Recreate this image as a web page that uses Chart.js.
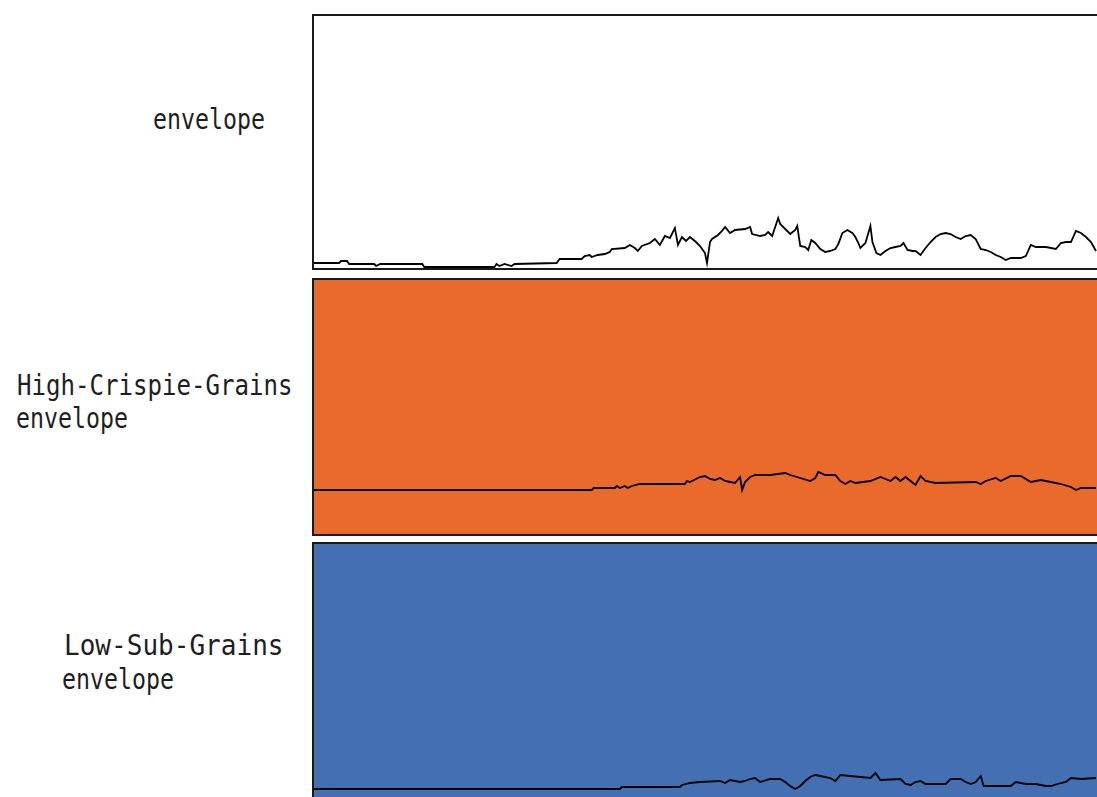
<!DOCTYPE html>
<html>
<head>
<meta charset="utf-8">
<script src="https://cdn.jsdelivr.net/npm/chart.js@4/dist/chart.umd.min.js"></script>
<style>
  html, body { margin: 0; padding: 0; background: #ffffff; width: 1097px; height: 797px; overflow: hidden; }
  .panel { position: absolute; left: 312px; width: 783px; border: 2px solid #1a1a1a; }
  .panel canvas { display: block; }
  .label { position: absolute; font-family: "DejaVu Sans Mono", monospace; font-size: 28px; line-height: 33px;
           color: #1e1e1e; transform-origin: 0 0; white-space: pre; }
</style>
</head>
<body>
<div class="label" style="left:153px; top:103px; transform:scaleX(0.83);">envelope</div>
<div class="label" style="left:17px; top:369px; transform:scaleX(0.86);">High-Crispie-Grains</div>
<div class="label" style="left:16px; top:402px; transform:scaleX(0.83);">envelope</div>
<div class="label" style="left:64px; top:629px; transform:scaleX(0.93);">Low-Sub-Grains</div>
<div class="label" style="left:62px; top:663px; transform:scaleX(0.83);">envelope</div>

<div class="panel" style="top:14px; height:252px; background:#ffffff;"><canvas id="c1" width="783" height="252"></canvas></div>
<div class="panel" style="top:278px; height:254px; background:#E96A2B;"><canvas id="c2" width="783" height="254"></canvas></div>
<div class="panel" style="top:542px; height:256px; background:#4270B2;"><canvas id="c3" width="783" height="256"></canvas></div>

<script>
// Panel labels
const panelLabels = ["envelope", "High-Crispie-Grains envelope", "Low-Sub-Grains envelope"];

// Envelope 1 (plain "envelope")
const env1Time = [0,25,27,33,35,60,62,66,108,110,180,182,185,190,197,200,242,245,267,270,275,277,283,290,295,297,310,315,320,323,327,335,340,345,350,355,360,363,367,371,375,381,385,390,392,395,397,403,407,410,415,420,430,435,437,445,450,453,457,460,463,465,470,475,480,482,485,490,493,496,500,505,510,515,520,523,527,532,537,540,543,545,550,555,557,561,565,570,575,580,585,588,592,597,600,605,610,615,620,625,630,635,640,645,650,655,660,665,670,675,680,685,690,695,705,710,715,720,730,740,745,750,755,760,765,770,775,780];
const env1Amp  = [5,5,7,7,4,4,2,4,4,1,1,4,2,4,2,4,5,9,9,12,13,11,13,14,16,19,20,23,20,17,22,25,29,23,32,30,40,23,31,27,31,26,22,15,5,26,29,33,37,41,35,38,39,41,34,32,33,36,32,41,50,44,39,34,38,42,22,21,18,28,25,19,16,17,19,24,35,38,35,31,25,20,25,42,26,15,13,17,20,21,22,25,18,17,17,13,20,26,31,34,35,34,31,29,32,33,29,19,18,16,13,11,8,10,10,12,23,21,21,19,25,26,26,37,35,31,26,17];

// Envelope 2 (High-Crispie-Grains)
const env2Time = [0,277,279,300,302,305,310,313,317,325,370,372,375,385,390,395,400,405,410,415,420,425,427,430,435,440,455,470,475,485,495,500,503,510,520,525,530,535,540,555,565,575,580,585,590,595,600,605,610,620,660,665,670,680,685,695,705,710,715,725,735,745,755,760,765,780];
const env2Amp  = [44,44,46,46,48,46,48,46,48,50,50,53,52,57,58,55,54,56,53,52,51,57,44,52,57,59,59,61,59,56,53,56,62,59,59,53,50,53,51,53,57,53,57,53,57,53,49,58,53,51,52,50,53,56,53,58,58,55,52,54,52,50,47,44,46,46];

// Envelope 3 (Low-Sub-Grains)
const env3Time = [0,305,307,365,367,375,385,405,410,415,425,430,435,440,445,455,465,470,475,480,485,490,495,500,505,515,520,525,535,555,560,565,585,590,595,600,605,610,630,635,645,650,655,660,665,668,695,700,710,720,730,735,745,750,755,765,780];
const env3Amp  = [7,7,9,9,11,13,14,15,13,16,14,15,17,18,14,17,17,14,10,7,10,15,19,21,20,18,15,21,20,18,23,16,17,12,11,14,15,12,12,17,17,14,12,14,20,10,10,14,12,12,10,10,13,14,18,17,18];

const timeMax = 781;

function makeEnvelope(id, times, amps, yMax, padBottom) {
  new Chart(document.getElementById(id), {
    type: 'line',
    data: {
      datasets: [{
        data: times.map((t, i) => ({ x: t, y: amps[i] })),
        borderColor: '#000000',
        borderWidth: 1.8,
        pointRadius: 0,
        tension: 0,
        fill: false,
        clip: false
      }]
    },
    options: {
      responsive: false,
      animation: false,
      events: [],
      layout: { padding: { left: 0, right: 0, top: 0, bottom: padBottom } },
      plugins: { legend: { display: false }, tooltip: { enabled: false }, title: { display: false } },
      scales: {
        x: { type: 'linear', min: 0, max: timeMax, display: false },
        y: { type: 'linear', min: 0, max: yMax, display: false }
      }
    }
  });
}

makeEnvelope('c1', env1Time, env1Amp, 252, 0);
makeEnvelope('c2', env2Time, env2Amp, 254, 0);
makeEnvelope('c3', env3Time, env3Amp, 252, 4);
</script>
</body>
</html>
